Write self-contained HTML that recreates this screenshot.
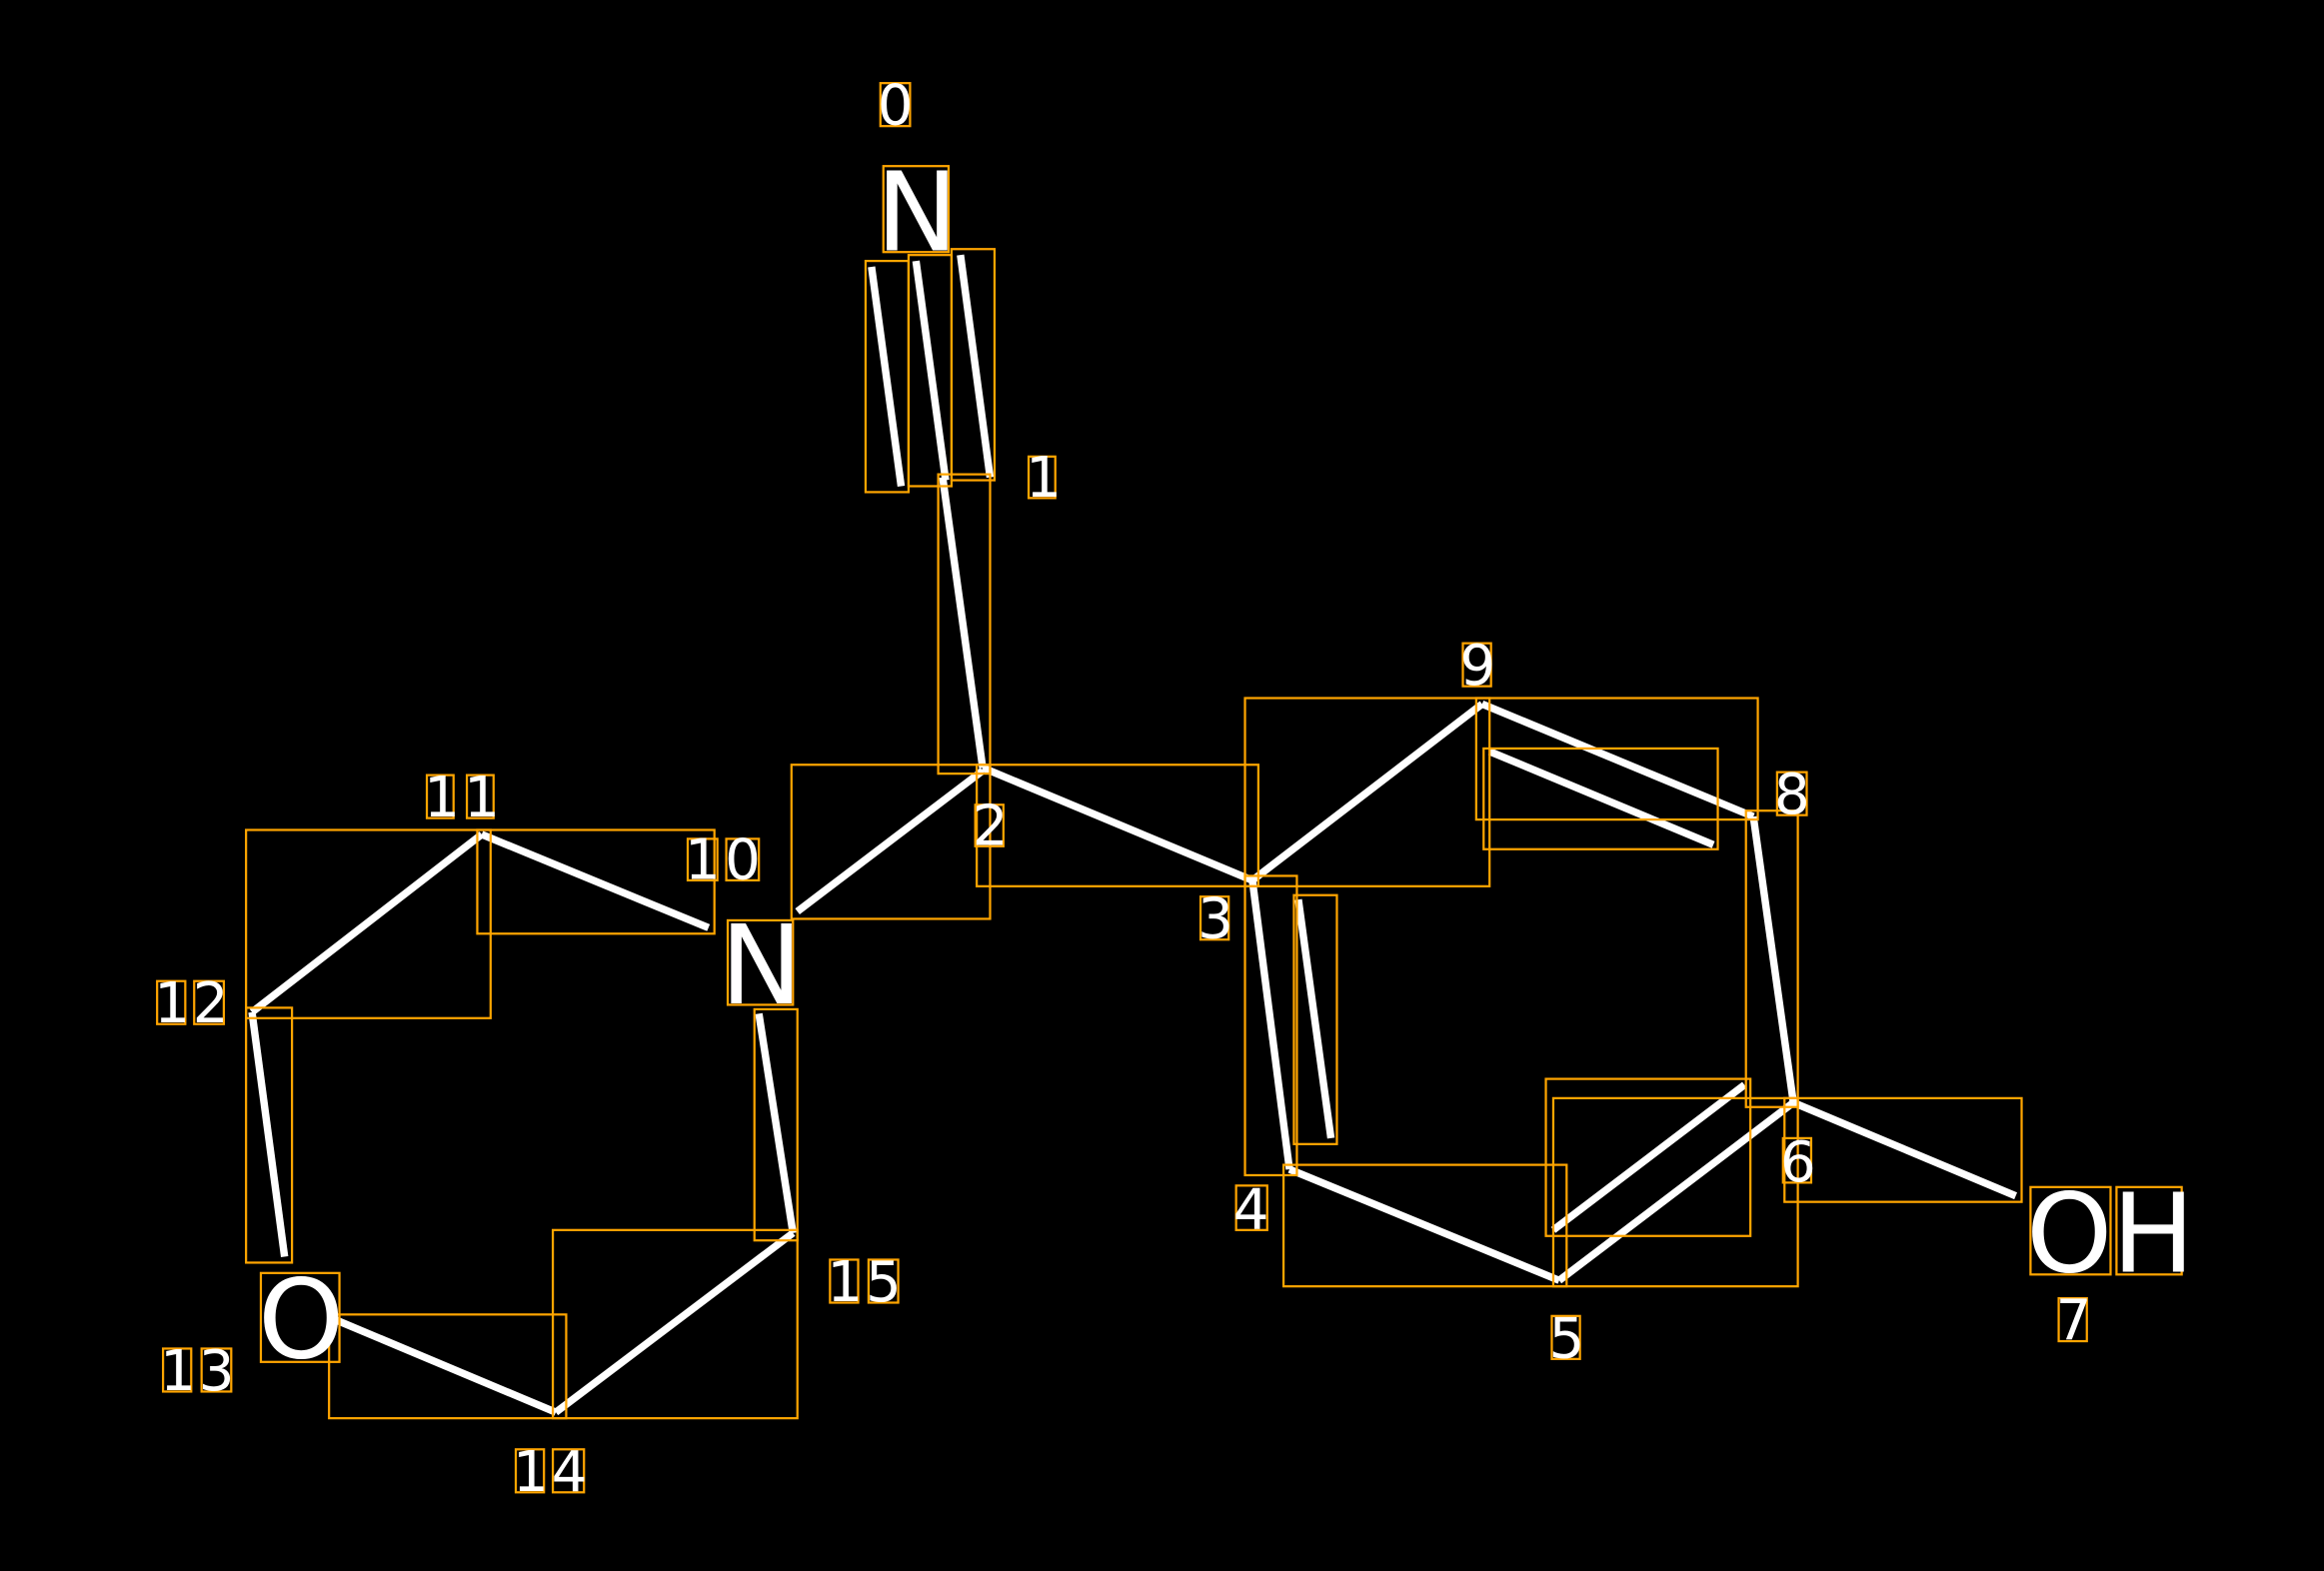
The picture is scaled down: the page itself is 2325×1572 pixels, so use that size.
<!DOCTYPE html>
<html><head><meta charset="utf-8"><style>
html,body{margin:0;padding:0;background:#000;}
svg{display:block;}
text{font-family:"DejaVu Sans","Liberation Sans",sans-serif;fill:#fff;}
</style></head><body>
<svg width="2325" height="1572" viewBox="0 0 1568 1060" xmlns="http://www.w3.org/2000/svg">
<rect width="1568" height="1060" fill="#000"/>
<g stroke="#fff" stroke-width="5" fill="none">
<line x1="588" y1="180" x2="608" y2="328"/>
<line x1="618" y1="176" x2="638" y2="324"/>
<line x1="648" y1="172" x2="668" y2="322"/>
<line x1="636" y1="322" x2="663" y2="518"/>
<line x1="663" y1="520" x2="538" y2="615"/>
<line x1="663" y1="518" x2="845" y2="594"/>
<line x1="845" y1="594" x2="1000" y2="475"/>
<line x1="1000" y1="475" x2="1183" y2="551"/>
<line x1="1005" y1="507" x2="1156" y2="570"/>
<line x1="1183" y1="551" x2="1210" y2="744"/>
<line x1="1210" y1="744" x2="1360" y2="807"/>
<line x1="1210" y1="744" x2="1052" y2="864"/>
<line x1="1048" y1="830" x2="1177" y2="732"/>
<line x1="1052" y1="864" x2="870" y2="789"/>
<line x1="870" y1="789" x2="845" y2="594"/>
<line x1="876" y1="607" x2="898" y2="768"/>
<line x1="478" y1="626" x2="325" y2="563"/>
<line x1="325" y1="563" x2="170" y2="683"/>
<line x1="170" y1="683" x2="192" y2="848"/>
<line x1="225" y1="890" x2="375" y2="953"/>
<line x1="375" y1="953" x2="535" y2="832"/>
<line x1="535" y1="832" x2="512" y2="684"/>
</g>
<g stroke="#FFA500" stroke-width="1.5" fill="none">
<rect x="594" y="56" width="20" height="29"/>
<rect x="596" y="112" width="44" height="58"/>
<rect x="694" y="308" width="18" height="28"/>
<rect x="658" y="543" width="19" height="28"/>
<rect x="810" y="605" width="19" height="29"/>
<rect x="834" y="800" width="21" height="30"/>
<rect x="1047" y="888" width="19" height="29"/>
<rect x="1203" y="768" width="19" height="30"/>
<rect x="1389" y="876" width="19" height="29"/>
<rect x="1199" y="521" width="20" height="29"/>
<rect x="987" y="434" width="19" height="29"/>
<rect x="464" y="566" width="20" height="28"/>
<rect x="490" y="566" width="22" height="28"/>
<rect x="288" y="523" width="18" height="29"/>
<rect x="315" y="523" width="18" height="29"/>
<rect x="106" y="662" width="19" height="29"/>
<rect x="131" y="662" width="20" height="29"/>
<rect x="110" y="910" width="19" height="29"/>
<rect x="136" y="910" width="20" height="29"/>
<rect x="348" y="978" width="19" height="29"/>
<rect x="373" y="978" width="21" height="29"/>
<rect x="560" y="850" width="19" height="29"/>
<rect x="586" y="850" width="20" height="29"/>
<rect x="491" y="621" width="44" height="57"/>
<rect x="176" y="859" width="53" height="60"/>
<rect x="1370" y="801" width="54" height="59"/>
<rect x="1428" y="801" width="44" height="59"/>
<rect x="584" y="176" width="29" height="156"/>
<rect x="613" y="172" width="29" height="156"/>
<rect x="642" y="168" width="29" height="156"/>
<rect x="633" y="320" width="35" height="202"/>
<rect x="534" y="516" width="134" height="104"/>
<rect x="659" y="516" width="190" height="82"/>
<rect x="840" y="471" width="165" height="127"/>
<rect x="996" y="471" width="190" height="82"/>
<rect x="1001" y="505" width="158" height="68"/>
<rect x="1178" y="547" width="35" height="200"/>
<rect x="1204" y="741" width="160" height="70"/>
<rect x="1043" y="728" width="138" height="106"/>
<rect x="1048" y="741" width="165" height="127"/>
<rect x="866" y="786" width="191" height="82"/>
<rect x="840" y="591" width="35" height="202"/>
<rect x="873" y="604" width="29" height="168"/>
<rect x="322" y="560" width="160" height="70"/>
<rect x="166" y="560" width="165" height="127"/>
<rect x="166" y="680" width="31" height="172"/>
<rect x="222" y="887" width="160" height="70"/>
<rect x="373" y="830" width="165" height="127"/>
<rect x="509" y="681" width="29" height="156"/>
</g>
<g font-size="38">
<text x="592" y="84">0</text>
<text x="692" y="335">1</text>
<text x="656" y="570">2</text>
<text x="808" y="633">3</text>
<text x="832" y="829">4</text>
<text x="1045" y="916">5</text>
<text x="1201" y="797">6</text>
<text x="1387" y="904">7</text>
<text x="1197" y="549">8</text>
<text x="985" y="462">9</text>
<text x="462" y="593">1</text><text x="489" y="593">0</text>
<text x="286" y="551">1</text><text x="313" y="551">1</text>
<text x="104" y="690">1</text><text x="130" y="690">2</text>
<text x="108" y="938">1</text><text x="134" y="938">3</text>
<text x="346" y="1006">1</text><text x="372" y="1006">4</text>
<text x="558" y="878">1</text><text x="584" y="878">5</text>
</g>
<g font-size="74">
<text x="591" y="169">N</text>
<text x="486" y="677">N</text>
<text x="174" y="916">O</text>
<text x="1367" y="858">O</text>
<text x="1425" y="858">H</text>
</g>
</svg>
</body></html>
